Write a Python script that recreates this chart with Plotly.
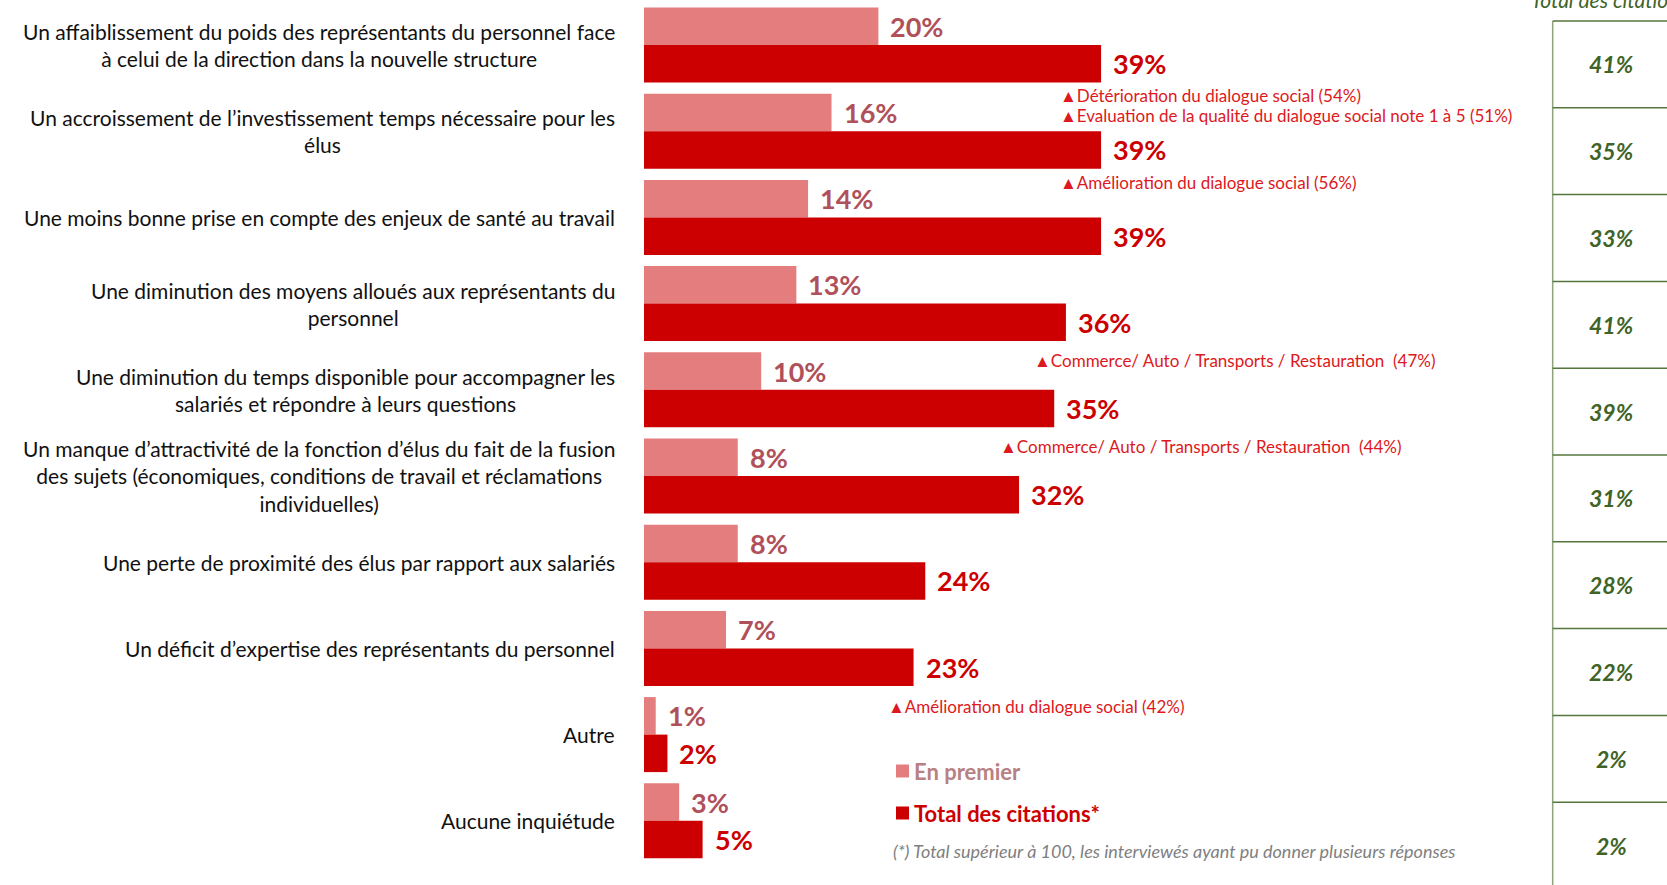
import plotly.graph_objects as go

categories = [
    "Un affaiblissement du poids des représentants du personnel face<br>à celui de la direction dans la nouvelle structure",
    "Un accroissement de l’investissement temps nécessaire pour les<br>élus",
    "Une moins bonne prise en compte des enjeux de santé au travail",
    "Une diminution des moyens alloués aux représentants du<br>personnel",
    "Une diminution du temps disponible pour accompagner les<br>salariés et répondre à leurs questions",
    "Un manque d’attractivité de la fonction d’élus du fait de la fusion<br>des sujets (économiques, conditions de travail et réclamations<br>individuelles)",
    "Une perte de proximité des élus par rapport aux salariés",
    "Un déficit d’expertise des représentants du personnel",
    "Autre",
    "Aucune inquiétude",
]
en_premier = [20, 16, 14, 13, 10, 8, 8, 7, 1, 3]
total_citations = [39, 39, 39, 36, 35, 32, 24, 23, 2, 5]
table_total = [41, 35, 33, 41, 39, 31, 28, 22, 2, 2]

series_names = ["En premier", "Total des citations*"]
table_title = "Total des citations"
footnote = "(*) Total supérieur à 100, les interviewés ayant pu donner plusieurs réponses"

# significance notes: (text, x pixel, y pixel) -- layout positions
notes = [
    ("▲Détérioration du dialogue social (54%)", 1058, 95),
    ("▲Evaluation de la qualité du dialogue social note 1 à 5 (51%)", 1058, 116),
    ("▲Amélioration du dialogue social (56%)", 1058, 182),
    ("▲Commerce/ Auto / Transports / Restauration  (47%)", 1032, 360),
    ("▲Commerce/ Auto / Transports / Restauration  (44%)", 998, 446),
    ("▲Amélioration du dialogue social (42%)", 886, 706),
]

W, H, L = 1667, 885, 644
PX_PER = 11.72
ROW0, PITCH = 45.0, 86.2

LIGHT = "#E47D7E"
DARK = "#CC0000"
LIGHT_TXT = "#B0505A"
GREEN = "#3F6428"
NOTE_RED = "#DD1820"
FONT = "Lato"


def pxx(p):
    return (p - L) / (W - L)


def pxy(p):
    return 1 - p / H


idx = list(range(len(categories)))

fig = go.Figure()
fig.add_trace(go.Bar(y=idx, x=en_premier, orientation="h", name=series_names[0],
                     marker=dict(color=LIGHT, line=dict(width=0)), showlegend=False))
fig.add_trace(go.Bar(y=idx, x=total_citations, orientation="h", name=series_names[1],
                     marker=dict(color=DARK, line=dict(width=0)), showlegend=False))

ann = []
half = 0.87 / 4
for i, (a, b) in enumerate(zip(en_premier, total_citations)):
    ann.append(dict(x=a, y=i - half, xref="x", yref="y", text=f"{a}%", showarrow=False,
                    xanchor="left", yanchor="middle", xshift=10,
                    font=dict(family=FONT, size=27, color=LIGHT_TXT, weight="bold")))
    ann.append(dict(x=b, y=i + half, xref="x", yref="y", text=f"{b}%", showarrow=False,
                    xanchor="left", yanchor="middle", xshift=10,
                    font=dict(family=FONT, size=27, color=DARK, weight="bold")))
    ann.append(dict(x=pxx(617), y=i, xref="paper", yref="y", text=categories[i], showarrow=False,
                    xanchor="right", yanchor="middle", align="center",
                    font=dict(family=FONT, size=21, color="#111111")))

for txt, px, py in notes:
    ann.append(dict(x=pxx(px), y=pxy(py), xref="paper", yref="paper", text=txt, showarrow=False,
                    xanchor="left", yanchor="middle",
                    font=dict(family=FONT, size=17, color=NOTE_RED)))

# Right-hand table
TAB_TOP, TAB_PITCH, TAB_X = 21.0, 86.8, 1552.7
shapes = []
shapes.append(dict(type="line", xref="paper", yref="paper", x0=pxx(TAB_X), x1=pxx(TAB_X),
                   y0=pxy(TAB_TOP), y1=0, line=dict(color="#8DA47D", width=1.5)))
for k in range(len(table_total) + 1):
    y = TAB_TOP + TAB_PITCH * k
    if y <= H:
        shapes.append(dict(type="line", xref="paper", yref="paper", x0=pxx(TAB_X), x1=1,
                           y0=pxy(y), y1=pxy(y), line=dict(color="#55763D", width=1.5)))
for k, v in enumerate(table_total):
    ann.append(dict(x=pxx(1611.5), y=pxy(TAB_TOP + TAB_PITCH * (k + 0.5)), xref="paper", yref="paper",
                    text=f"<i>{v}%</i>", showarrow=False, xanchor="center", yanchor="middle",
                    font=dict(family=FONT, size=23, color=GREEN, weight="bold")))
ann.append(dict(x=pxx(1529), y=1, xref="paper", yref="paper", text=f"<i>{table_title}</i>",
                showarrow=False, xanchor="left", yanchor="bottom", yshift=-14,
                font=dict(family=FONT, size=21, color=GREEN)))

# Legend (custom)
leg = [(series_names[0], LIGHT, "#B88082", 771), (series_names[1], DARK, DARK, 813)]
for name, sq, tc, yc in leg:
    shapes.append(dict(type="rect", xref="paper", yref="paper", x0=pxx(896), x1=pxx(909),
                       y0=pxy(yc - 6.5), y1=pxy(yc + 6.5), fillcolor=sq, line=dict(width=0)))
    ann.append(dict(x=pxx(912), y=pxy(yc), xref="paper", yref="paper", text=f"<b>{name}</b>",
                    showarrow=False, xanchor="left", yanchor="middle",
                    font=dict(family=FONT, size=22, color=tc)))
ann.append(dict(x=pxx(891), y=pxy(851), xref="paper", yref="paper", text=f"<i>{footnote}</i>",
                showarrow=False, xanchor="left", yanchor="middle",
                font=dict(family=FONT, size=18, color="#808080")))

fig.update_layout(
    width=W, height=H,
    margin=dict(l=L, r=0, t=0, b=0),
    paper_bgcolor="white", plot_bgcolor="white",
    barmode="group", bargap=0.13, bargroupgap=0,
    xaxis=dict(range=[0, (W - L) / PX_PER], visible=False, fixedrange=True),
    yaxis=dict(range=[(H - ROW0) / PITCH, -ROW0 / PITCH], visible=False, fixedrange=True),
    annotations=ann, shapes=shapes, showlegend=False,
)

fig.write_html("out.html", config={"displayModeBar": False},
               post_script="document.body.style.margin='0';document.body.style.overflow='hidden';")
